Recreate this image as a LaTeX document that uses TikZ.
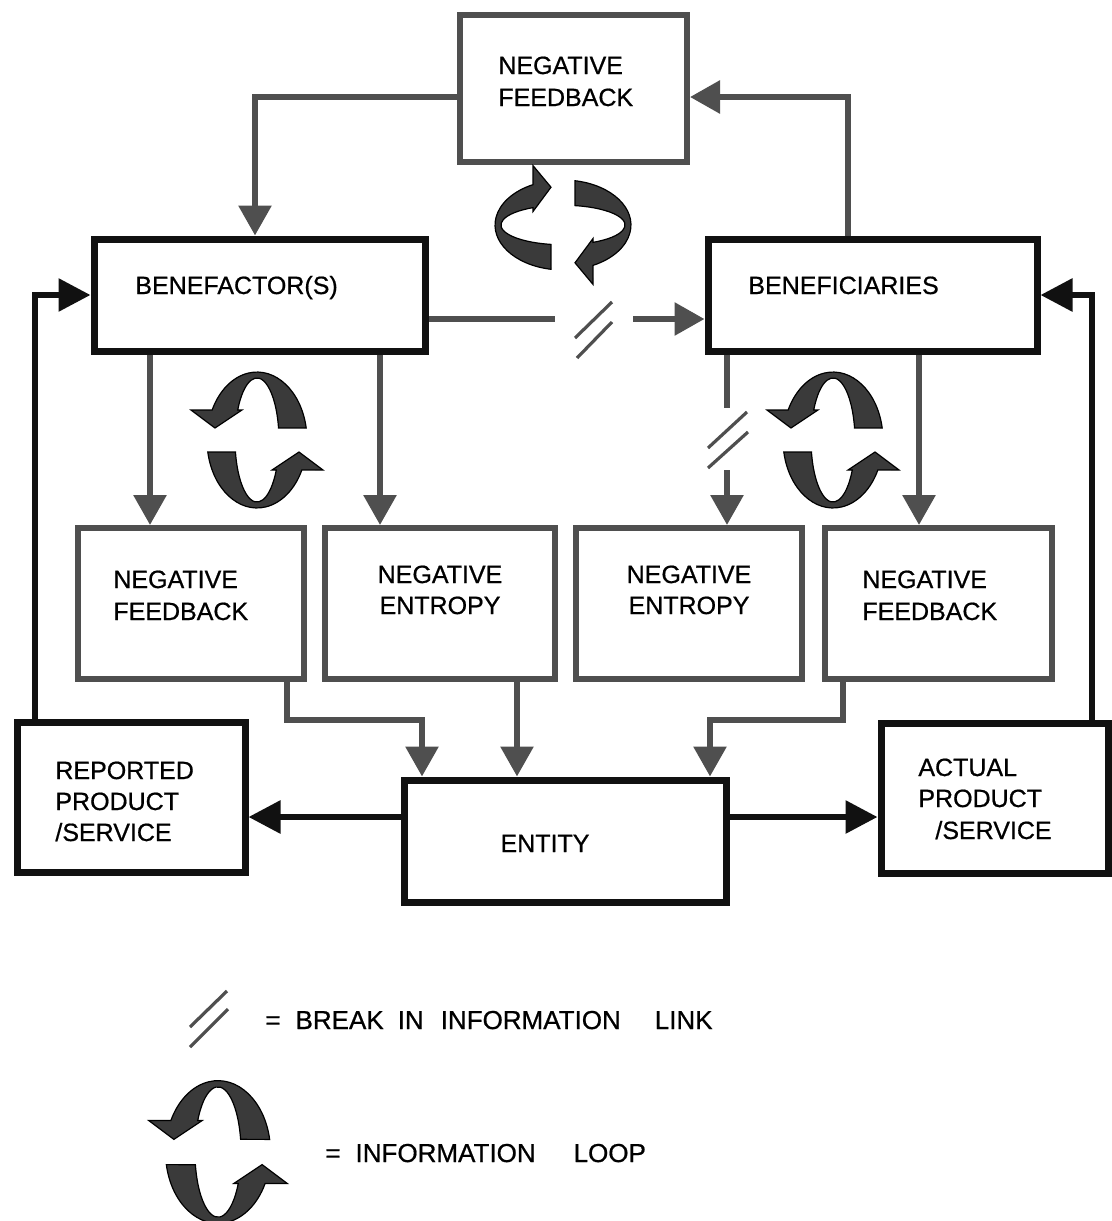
\documentclass[tikz,border=0pt]{standalone}
\usepackage{fontspec}
\setmainfont{Liberation Sans}
\newfontfamily\diagfont{Liberation Sans}[FakeBold=0.7]
\usetikzlibrary{arrows.meta}
\definecolor{linegray}{HTML}{4F4F4F}
\definecolor{loopgray}{HTML}{3A3A3A}
\definecolor{ink}{HTML}{111111}

% one half of an information loop: a ribbon arc ending in a fat arrowhead
\newcommand\loopband{%
  \filldraw[loopfill] (49.2,12)
    arc[start angle=10.2, end angle=153.8, x radius=50, y radius=68]
    -- (-66,30) -- (-42,12) -- (-15,30) -- (-19.3,30)
    arc[start angle=151.1, end angle=11.2, x radius=22, y radius=62]
    -- cycle;}

\begin{document}
\begin{tikzpicture}[x=0.5pt,y=-0.5pt,
  graybox/.style={draw=linegray, line width=3pt, rectangle, inner sep=0pt},
  blackbox/.style={draw=ink, line width=3.5pt, rectangle, inner sep=0pt},
  gconn/.style={draw=linegray, line width=3pt},
  garrow/.style={gconn, -{Triangle[width=16pt,length=15pt]}},
  bconn/.style={draw=ink, line width=3pt},
  barrow/.style={bconn, -{Triangle[width=16pt,length=16pt]}},
  breakmark/.style={draw=linegray, line width=1.6pt},
  boxtext/.style={inner sep=0pt, font=\diagfont\fontsize{12.5pt}{14pt}\selectfont},
  legendtext/.style={inner sep=0pt, font=\diagfont\fontsize{13pt}{15pt}\selectfont},
  loopfill/.style={fill=loopgray, draw=black, line width=0.6pt}
]
\useasboundingbox (0,0) rectangle (1112,1221);

% ---- boxes ----
\node[graybox, minimum width=113.5pt, minimum height=73.5pt] (topfb) at (573.5,88.5) {};
\node[blackbox, minimum width=165.5pt, minimum height=56pt] (benefactor) at (259.5,295) {};
\node[blackbox, minimum width=164.5pt, minimum height=56pt] (beneficiaries) at (872.5,295) {};
\node[graybox, minimum width=113pt, minimum height=75.5pt] (box1) at (191,603.5) {};
\node[graybox, minimum width=115pt, minimum height=75.5pt] (box2) at (440,603.5) {};
\node[graybox, minimum width=113pt, minimum height=75.5pt] (box3) at (689,603.5) {};
\node[graybox, minimum width=113.5pt, minimum height=75.5pt] (box4) at (938.5,603.5) {};
\node[blackbox, minimum width=161pt, minimum height=61pt] (entity) at (565,841) {};
\node[blackbox, minimum width=114pt, minimum height=75pt] (reported) at (131,797) {};
\node[blackbox, minimum width=113.5pt, minimum height=75pt] (actual) at (994.5,798) {};

% ---- box texts ----
\node[boxtext, anchor=base west] (tfbA) at (498,74) {NEGATIVE};
\node[boxtext, anchor=base west] (tfbB) at (498,106) {FEEDBACK};
\node[boxtext, anchor=base west] (tbfr) at (135,294) {BENEFACTOR(S)};
\node[boxtext, anchor=base west] (tbfy) at (748,294) {BENEFICIARIES};
\node[boxtext, anchor=base west] (t1A) at (113,588) {NEGATIVE};
\node[boxtext, anchor=base west] (t1B) at (113,620) {FEEDBACK};
\node[boxtext, anchor=base] (t2A) at (440,583) {NEGATIVE};
\node[boxtext, anchor=base] (t2B) at (440,614) {ENTROPY};
\node[boxtext, anchor=base] (t3A) at (689,583) {NEGATIVE};
\node[boxtext, anchor=base] (t3B) at (689,614) {ENTROPY};
\node[boxtext, anchor=base west] (t4A) at (862,588) {NEGATIVE};
\node[boxtext, anchor=base west] (t4B) at (862,620) {FEEDBACK};
\node[boxtext, anchor=base] (tent) at (545,852) {ENTITY};
\node[boxtext, anchor=base west] (trA) at (55,779) {REPORTED};
\node[boxtext, anchor=base west] (trB) at (55,810) {PRODUCT};
\node[boxtext, anchor=base west] (trC) at (55,841) {/SERVICE};
\node[boxtext, anchor=base west] (taA) at (918,776) {ACTUAL};
\node[boxtext, anchor=base west] (taB) at (918,807) {PRODUCT};
\node[boxtext, anchor=base west] (taC) at (935,839) {/SERVICE};

% ---- gray information links ----
\draw[garrow] (topfb.west |- 0,97) -| (benefactor.north -| 255,0);
\draw[garrow] (beneficiaries.north -| 848,0) |- (topfb.east |- 0,97);

\coordinate (hbrkA) at (555,319);
\coordinate (hbrkB) at (633,319);
\draw[gconn] (benefactor.east |- 0,319) -- (hbrkA);
\draw[garrow] (hbrkB) -- (beneficiaries.west |- 0,319);
\draw[breakmark] (575,338) -- (612,302);
\draw[breakmark] (577,358) -- (612,322);

\draw[garrow] (benefactor.south -| 150,0) -- (box1.north -| 150,0);
\draw[garrow] (benefactor.south -| 380,0) -- (box2.north -| 380,0);

\coordinate (vbrkA) at (727,408);
\coordinate (vbrkB) at (727,470);
\draw[gconn] (beneficiaries.south -| 727,0) -- (vbrkA);
\draw[garrow] (vbrkB) -- (box3.north -| 727,0);
\draw[breakmark] (708,448) -- (747,412);
\draw[breakmark] (708,468) -- (748,432);

\draw[garrow] (beneficiaries.south -| 919,0) -- (box4.north -| 919,0);

\draw[garrow] (box1.south -| 287,0) -- (287,720) -| (entity.north -| 422,0);
\draw[garrow] (box2.south -| 517,0) -- (entity.north -| 517,0);
\draw[garrow] (box4.south -| 843,0) -- (843,720) -| (entity.north -| 710,0);

% ---- black product links ----
\draw[barrow] (entity.west |- 0,817) -- (reported.east |- 0,817);
\draw[barrow] (entity.east |- 0,817) -- (actual.west |- 0,817);
\draw[barrow] (reported.north -| 35,0) |- (benefactor.west |- 0,295);
\draw[barrow] (actual.north -| 1092,0) |- (beneficiaries.east |- 0,295);

% ---- information loops ----
\begin{scope}[shift={(563,225)}, rotate=-90, xscale=0.9]
  \loopband
  \begin{scope}[rotate=180]\loopband\end{scope}
\end{scope}
\begin{scope}[shift={(257,440)}, yscale=-1]
  \loopband
  \begin{scope}[rotate=180]\loopband\end{scope}
\end{scope}
\begin{scope}[shift={(833,440)}, yscale=-1]
  \loopband
  \begin{scope}[rotate=180]\loopband\end{scope}
\end{scope}

% ---- legend ----
\draw[breakmark] (190,1027) -- (227,991);
\draw[breakmark] (190,1047) -- (228,1009);
\node[legendtext, anchor=base west] (legbreak) at (265,1029)
  {=\hspace{7.5pt}BREAK\hspace{7pt}IN\hspace{8.5pt}INFORMATION\hspace{17pt}LINK};
\begin{scope}[shift={(218,1152)}, yscale=-1, scale=1.05]
  \loopband
  \begin{scope}[rotate=180]\loopband\end{scope}
\end{scope}
\node[legendtext, anchor=base west] (legloop) at (325,1162)
  {=\hspace{7.5pt}INFORMATION\hspace{19pt}LOOP};
\end{tikzpicture}
\end{document}
